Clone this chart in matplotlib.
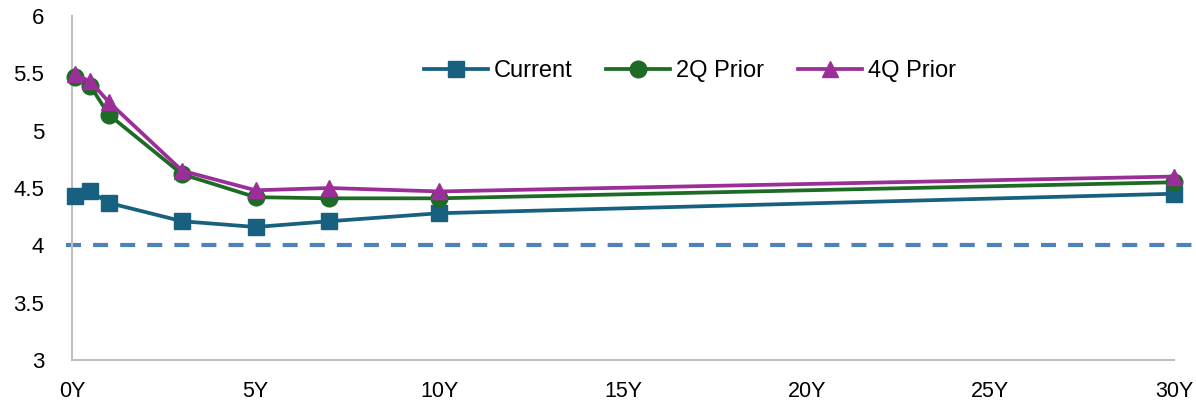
import matplotlib
matplotlib.use("Agg")
import matplotlib.pyplot as plt

# Tenor (years) and yields for each curve
tenors = [0.083, 0.5, 1, 3, 5, 7, 10, 30]
current = [4.43, 4.47, 4.37, 4.21, 4.16, 4.21, 4.28, 4.45]
prior_2q = [5.47, 5.39, 5.14, 4.62, 4.42, 4.41, 4.41, 4.55]
prior_4q = [5.49, 5.43, 5.25, 4.65, 4.48, 4.50, 4.47, 4.60]
reference_level = 4.0

x_ticks = [0, 5, 10, 15, 20, 25, 30]
x_labels = ["0Y", "5Y", "10Y", "15Y", "20Y", "25Y", "30Y"]
y_ticks = [3, 3.5, 4, 4.5, 5, 5.5, 6]
y_labels = ["3", "3.5", "4", "4.5", "5", "5.5", "6"]

COL_CUR = "#17607F"
COL_2Q = "#1E6B26"
COL_4Q = "#9B2E98"
COL_REF = "#4F81BD"
COL_AXIS = "#BFBFBF"

W, H = 1196, 404
fig = plt.figure(figsize=(W / 100, H / 100), dpi=100)
ax = fig.add_axes([72 / W, (H - 360) / H, (1174 - 72) / W, (360 - 16) / H])

# flat 4% reference, running slightly past the plot area on both sides
ax.axhline(reference_level, xmin=-0.005, xmax=1.02, color=COL_REF, lw=3,
           dashes=(3.6, 2.9), clip_on=False, zorder=1)

ax.plot(tenors, current, color=COL_CUR, lw=2.7, marker="s", ms=12,
        label="Current", clip_on=False, zorder=3)
ax.plot(tenors, prior_2q, color=COL_2Q, lw=2.7, marker="o", ms=12,
        label="2Q Prior", clip_on=False, zorder=4)
ax.plot(tenors, prior_4q, color=COL_4Q, lw=2.7, marker="^", ms=12,
        label="4Q Prior", clip_on=False, zorder=5)

ax.set_xlim(0, 30)
ax.set_ylim(3, 6)
ax.set_xticks(x_ticks)
ax.set_xticklabels(x_labels, family="Liberation Sans", fontsize=15.5)
ax.set_yticks(y_ticks)
ax.set_yticklabels(y_labels, family="Liberation Sans", fontsize=16)
ax.tick_params(axis="x", length=0, pad=15)
ax.tick_params(axis="y", length=0, pad=20)

for side in ("top", "right"):
    ax.spines[side].set_visible(False)
for side in ("left", "bottom"):
    ax.spines[side].set_color(COL_AXIS)
    ax.spines[side].set_linewidth(1.5)

fig.legend(loc="center left", bbox_to_anchor=(412 / W, 1 - 71 / H),
           ncol=3, frameon=False, borderpad=0, handlelength=2.7,
           handletextpad=0.25, columnspacing=1.45,
           prop={"family": "Liberation Sans", "size": 17})

fig.savefig("out.png", dpi=100)
